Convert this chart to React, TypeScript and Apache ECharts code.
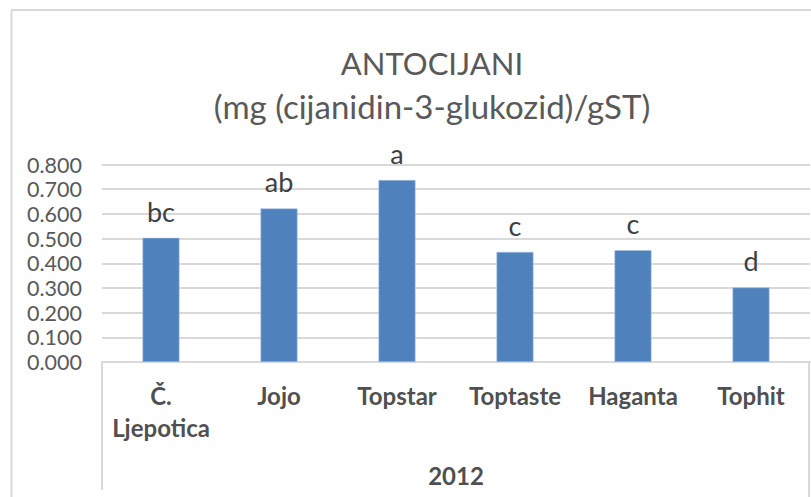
import React, { useEffect, useRef } from "react";
import * as echarts from "echarts";

const categories = ["Č.\nLjepotica", "Jojo", "Topstar", "Toptaste", "Haganta", "Tophit"];
const values = [0.503, 0.622, 0.737, 0.446, 0.453, 0.302];
const letters = ["bc", "ab", "a", "c", "c", "d"];
const groupLabel = "2012";
const titleLines = ["ANTOCIJANI", "(mg (cijanidin-3-glukozid)/gST)"];

export default function App() {
  const ref = useRef<HTMLDivElement>(null);
  useEffect(() => {
    const chart = echarts.init(ref.current!, undefined, { renderer: "svg" });
    const gridLeft = 102;
    const gridRight = 810;
    const axisY = 362;
    const border = "#d9d9d9";
    chart.setOption({
      animation: false,
      backgroundColor: "#ffffff",
      title: {
        text: `{a|${titleLines[0]}}\n{b|${titleLines[1]}}`,
        left: 427,
        top: 36,
        textAlign: "center",
        textStyle: {
          fontFamily: "Lato",
          fontWeight: "normal",
          color: "#595959",
          rich: {
            a: { fontFamily: "Lato", fontSize: 31, lineHeight: 43, color: "#595959" },
            b: { fontFamily: "Lato", fontSize: 33, lineHeight: 43, color: "#595959" },
          },
        },
      },
      grid: { left: gridLeft, right: 811 - gridRight, top: 164.5, bottom: 497 - axisY },
      xAxis: {
        type: "category",
        data: categories,
        axisLine: { lineStyle: { color: border, width: 2 } },
        axisTick: { show: false },
        axisLabel: {
          interval: 0,
          margin: 17,
          fontFamily: "Lato",
          fontWeight: "bold",
          fontSize: 24,
          lineHeight: 32,
          color: "#505050",
        },
      },
      yAxis: {
        type: "value",
        min: 0,
        max: 0.8,
        interval: 0.1,
        axisLine: { show: false },
        axisTick: { show: false },
        splitLine: { lineStyle: { color: border, width: 2 } },
        axisLabel: {
          margin: 20,
          fontFamily: "Lato",
          fontSize: 21.5,
          color: "#595959",
          formatter: (v: number) => v.toFixed(3),
        },
      },
      series: [
        {
          type: "bar",
          data: values,
          barWidth: 37,
          itemStyle: { color: "#4f81bd", borderColor: "#a9c3e3", borderWidth: 0.6 },
          label: {
            show: true,
            position: "top",
            distance: 13,
            fontFamily: "Lato",
            fontSize: 27,
            color: "#404040",
            formatter: (p: any) => letters[p.dataIndex],
          },
        },
      ],
      graphic: [
        { type: "line", shape: { x1: 11.5, y1: 10, x2: 11.5, y2: 497 }, style: { stroke: border, lineWidth: 2 } },
        { type: "line", shape: { x1: 11, y1: 10, x2: 811, y2: 10 }, style: { stroke: border, lineWidth: 2 } },
        { type: "line", shape: { x1: gridLeft, y1: axisY, x2: gridLeft, y2: 490 }, style: { stroke: border, lineWidth: 2 } },
        { type: "line", shape: { x1: 809, y1: axisY, x2: 809, y2: 497 }, style: { stroke: border, lineWidth: 2 } },
        {
          type: "text",
          x: (gridLeft + gridRight) / 2,
          y: 475,
          style: {
            text: groupLabel,
            align: "center",
            verticalAlign: "middle",
            fontFamily: "Lato",
            fontWeight: "bold",
            fontSize: 24,
            fill: "#505050",
          },
        },
      ],
    });
    return () => chart.dispose();
  }, []);
  return <div ref={ref} style={{ width: 811, height: 497, position: "absolute", left: 0, top: 0 }} />;
}
